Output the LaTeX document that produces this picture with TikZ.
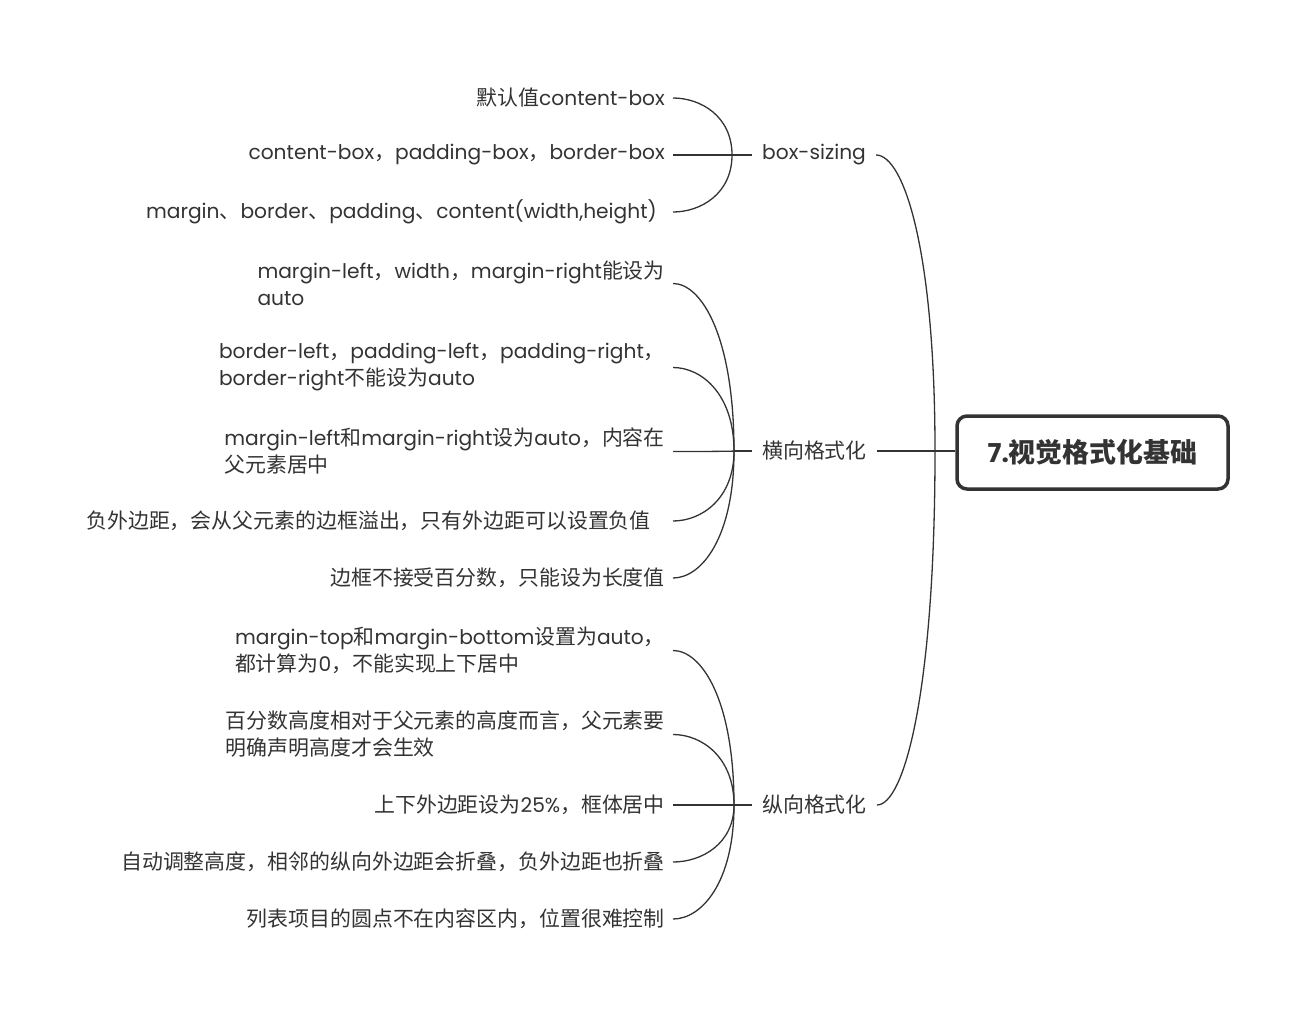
\documentclass[tikz,border=0pt]{standalone}
\usepackage{fontspec}
\setmainfont{Poppins}
\newfontfamily\cjkfont{Noto Sans CJK SC}[Scale=1.035]
\usetikzlibrary{calc}
\XeTeXinterchartokenstate=1
\newXeTeXintercharclass\mycjkclass
\newcount\mycnt
\def\setcjkrange#1#2{\mycnt=#1\relax\loop\XeTeXcharclass\mycnt=\mycjkclass\ifnum\mycnt<#2\advance\mycnt by 1\repeat}
\setcjkrange{"3000}{"303F}
\setcjkrange{"4E00}{"9FFF}
\setcjkrange{"FF00}{"FFEF}
\XeTeXinterchartoks 0 \mycjkclass = {\cjkfont}
\XeTeXinterchartoks 4095 \mycjkclass = {\cjkfont}
\XeTeXinterchartoks \mycjkclass 0 = {\rmfamily}
\definecolor{ink}{HTML}{333333}
\tikzset{
  leaf/.style={anchor=east, inner xsep=8pt, inner ysep=2pt, align=left, text=ink, font=\fontsize{20.2}{27}\selectfont},
  mid/.style={inner xsep=10pt, inner ysep=2pt, text=ink, font=\fontsize{20.2}{27}\selectfont},
  rootbox/.style={draw=ink, line width=3.5pt, rounded corners=10pt, minimum width=271pt, minimum height=73pt, text=ink, font=\bfseries\fontsize{26}{30}\selectfont},
  conn/.style={draw=ink, line width=1.3pt},
  curveto/.style={to path={let \p1=(\tikztostart),\p2=(\tikztotarget) in .. controls (\x1,{\y1+(\y2-\y1)*0.68}) and ({\x2+(\x1-\x2)*0.47},\y2) .. (\tikztotarget)}}
}
\begin{document}
\begin{tikzpicture}[x=1pt,y=-1pt]
\useasboundingbox (0,0) rectangle (1303,1017);
% root
\node[rootbox] (root) at (1092.5,452.5) {7.视觉格式化基础};
% main branches
\node[mid, anchor=west] (bs) at (752,155) {box-sizing};
\node[mid, anchor=west] (hx) at (752,451) {横向格式化};
\node[mid, anchor=west] (zx) at (752,805) {纵向格式化};
\coordinate (rj) at (935,451);
\draw[conn] (root.west |- hx.east) -- (hx.east);
\draw[conn] (rj) to[curveto] (bs.east);
\draw[conn] (rj) to[curveto] (zx.east);
% box-sizing leaves
\coordinate (bj) at (732,155);
\node[leaf] (b1) at (673,98) {默认值content-box};
\node[leaf] (b2) at (673,155) {content-box，padding-box，border-box};
\node[leaf, inner xsep=16pt] (b3) at (673,212) {margin、border、padding、content(width,height)};
\draw[conn] (bs.west) -- (bj);
\foreach \nd in {b1,b2,b3} \draw[conn] (bj) to[curveto] (\nd.east);
% horizontal leaves
\coordinate (hj) at (734,451);
\node[leaf] (h1) at (673,283.5) {margin-left，width，margin-right能设为\\auto};
\node[leaf] (h2) at (673,367.5) {border-left，padding-left，padding-right，\\border-right不能设为auto};
\node[leaf] (h3) at (673,451.5) {margin-left和margin-right设为auto，内容在\\父元素居中};
\node[leaf, inner xsep=22pt] (h4) at (673,521) {负外边距，会从父元素的边框溢出，只有外边距可以设置负值};
\node[leaf] (h5) at (673,578) {边框不接受百分数，只能设为长度值};
\draw[conn] (hx.west) -- (hj);
\foreach \nd in {h1,h2,h3,h4,h5} \draw[conn] (hj) to[curveto] (\nd.east);
% vertical leaves
\coordinate (zj) at (734,805);
\node[leaf] (z1) at (673,650.5) {margin-top和margin-bottom设置为auto，\\都计算为0，不能实现上下居中};
\node[leaf] (z2) at (673,734.5) {百分数高度相对于父元素的高度而言，父元素要\\明确声明高度才会生效};
\node[leaf] (z3) at (673,805) {上下外边距设为25\%，框体居中};
\node[leaf] (z4) at (673,862) {自动调整高度，相邻的纵向外边距会折叠，负外边距也折叠};
\node[leaf] (z5) at (673,919) {列表项目的圆点不在内容区内，位置很难控制};
\draw[conn] (zx.west) -- (zj);
\foreach \nd in {z1,z2,z3,z4,z5} \draw[conn] (zj) to[curveto] (\nd.east);
\end{tikzpicture}
\end{document}
